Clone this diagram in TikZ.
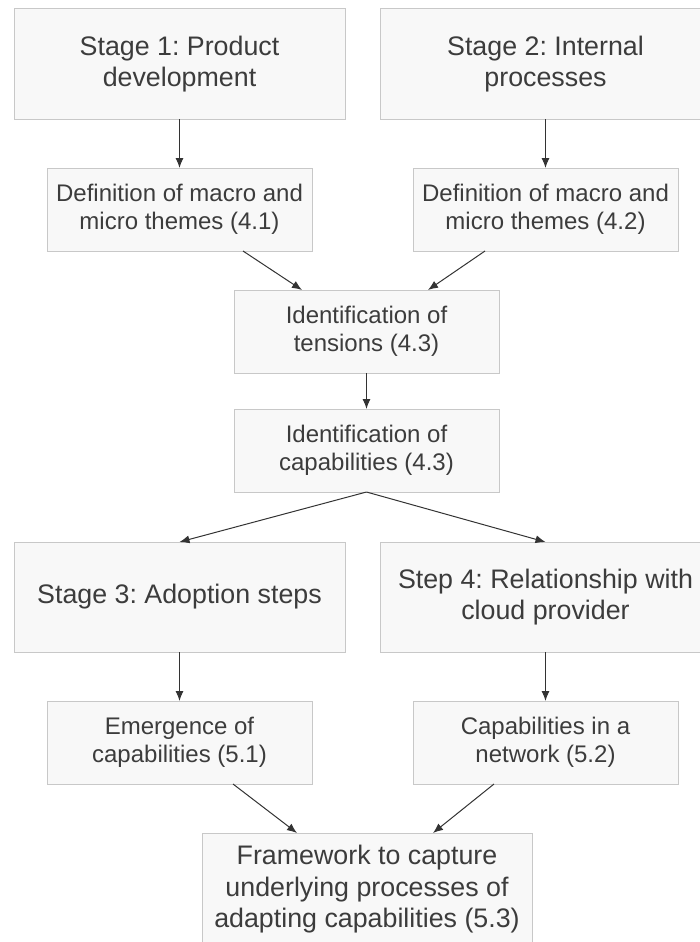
\documentclass[tikz,border=0pt]{standalone}
\usepackage{fontspec}
\setmainfont{Liberation Sans}
\usetikzlibrary{arrows.meta}
\definecolor{boxfill}{HTML}{F8F8F8}
\definecolor{boxline}{HTML}{C8C8C8}
\definecolor{txt}{HTML}{3C3C3C}
\definecolor{arr}{HTML}{333333}
\frenchspacing
\begin{document}
\begin{tikzpicture}[x=1pt,y=-1pt,
  box/.style={draw=boxline, fill=boxfill, line width=1pt, text=txt,
    align=center, inner sep=0pt, outer sep=0pt},
  bigbox/.style={box, minimum width=331pt, minimum height=110pt,
    font=\fontsize{26.8}{31}\selectfont},
  smallbox/.style={box, minimum width=265pt, minimum height=83pt,
    font=\fontsize{24}{28}\selectfont},
  flow/.style={draw=arr, line width=1pt, -{Latex[length=10pt,width=8pt]}}]
\useasboundingbox (0,0) rectangle (700,942);
\clip (0,0) rectangle (700,942);

% upper stages
\node[bigbox] (s1) at (179.5,64) {Stage 1: Product\\development};
\node[bigbox] (s2) at (545.5,64) {Stage 2: Internal\\processes};
\node[smallbox] (d1) at (179.5,209.5) {Definition of macro and\\micro themes (4.1)};
\node[smallbox] (d2) at (545.5,209.5) {Definition of macro and\\micro themes (4.2)};
\node[smallbox] (ten) at (366.5,331.5) {Identification of\\tensions (4.3)};
\node[smallbox] (cap) at (366.5,450.5) {Identification of\\capabilities (4.3)};

% lower stages
\node[bigbox] (s3) at (179.5,597) {Stage 3: Adoption steps};
\node[bigbox] (s4) at (545.5,597) {Step 4: Relationship with\\cloud provider};
\node[smallbox] (e1) at (179.5,742.5) {Emergence of\\capabilities (5.1)};
\node[smallbox] (n1) at (545.5,742.5) {Capabilities in a\\network (5.2)};
\node[box, minimum width=330pt, minimum height=113pt,
  font=\fontsize{26.8}{31.5}\selectfont] (fw) at (367,889.5)
  {Framework to capture\\underlying processes of\\adapting capabilities (5.3)};

% connectors
\draw[flow] (s1.south) -- (d1.north);
\draw[flow] (s2.south) -- (d2.north);
\draw[flow] ([xshift=-69pt]d1.south east) -- ([xshift=68pt]ten.north west);
\draw[flow] ([xshift=72pt]d2.south west) -- ([xshift=-71pt]ten.north east);
\draw[flow] (ten.south) -- (cap.north);
\draw[flow] (cap.south) -- (s3.north);
\draw[flow] (cap.south) -- (s4.north);
\draw[flow] (s3.south) -- (e1.north);
\draw[flow] (s4.south) -- (n1.north);
\draw[flow] ([xshift=-79pt]e1.south east) -- ([xshift=95pt]fw.north west);
\draw[flow] ([xshift=81pt]n1.south west) -- ([xshift=-99pt]fw.north east);
\end{tikzpicture}
\end{document}
